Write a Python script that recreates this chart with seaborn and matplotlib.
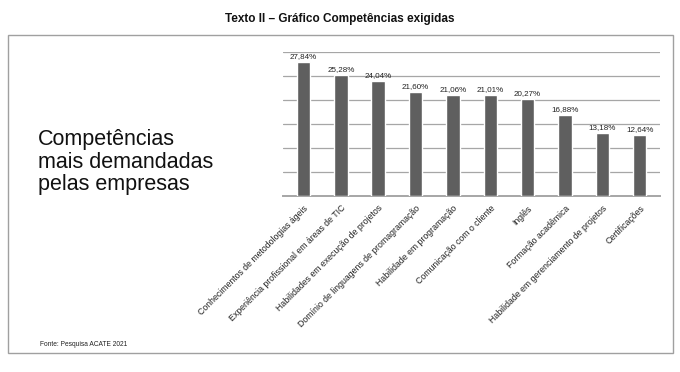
import matplotlib
matplotlib.use("Agg")
import matplotlib.pyplot as plt
import seaborn as sns
import pandas as pd
from matplotlib.patches import Rectangle

categories = [
    "Conhecimentos de metodologias ágeis",
    "Experiência profissional em áreas de TIC",
    "Habilidades em execução de projetos",
    "Domínio de linguagens de promagramação",
    "Habilidade em programação",
    "Comunicação com o cliente",
    "Inglês",
    "Formação acadêmica",
    "Habilidade em gerenciamento de projetos",
    "Certificações",
]
values = [27.84, 25.28, 24.04, 21.60, 21.06, 21.01, 20.27, 16.88, 13.18, 12.64]
value_labels = ["27,84%", "25,28%", "24,04%", "21,60%", "21,06%", "21,01%",
                "20,27%", "16,88%", "13,18%", "12,64%"]

df = pd.DataFrame({"cat": categories, "val": values})

sns.set_style("white")
plt.rcParams["font.family"] = ["Liberation Sans", "DejaVu Sans"]

fig = plt.figure(figsize=(6.8, 3.72), dpi=100)
ax = fig.add_axes([0.416, 0.473, 0.555, 0.387])

sns.barplot(data=df, x="cat", y="val", color="#5f5f5f", width=0.36,
            saturation=1, ax=ax, zorder=3)

ax.set_ylim(0, 30)
ax.set_yticks([0, 5, 10, 15, 20, 25, 30])
ax.yaxis.grid(True, color="#a6a6a6", linewidth=0.9, zorder=0)
ax.set_axisbelow(True)
ax.tick_params(axis="y", left=False, labelleft=False)
ax.tick_params(axis="x", bottom=False, pad=2)
for s in ["top", "right", "left"]:
    ax.spines[s].set_visible(False)
ax.spines["bottom"].set_color("#a6a6a6")
ax.spines["bottom"].set_linewidth(1.4)
ax.set_xlabel("")
ax.set_ylabel("")
ax.set_xlim(-0.55, len(categories) - 0.45)

ax.set_xticks(range(len(categories)))
ax.set_xticklabels(categories, rotation=45, ha="right", rotation_mode="anchor",
                   fontsize=6.3, color="#222222")

for i, (v, lab) in enumerate(zip(values, value_labels)):
    ax.text(i, v + 0.4, lab, ha="center", va="bottom", fontsize=5.8,
            color="#222222", zorder=4)

fig.text(0.5, 0.948, "Texto II – Gráfico Competências exigidas", ha="center",
         va="center", fontsize=8.5, fontweight="bold", color="#111111")

fig.text(38 / 680, 1 - 162 / 372,
         "Competências\nmais demandadas\npelas empresas",
         ha="left", va="center", fontsize=15.5, color="#111111", linespacing=1.12)

fig.text(40 / 680, 1 - 344 / 372, "Fonte: Pesquisa ACATE 2021", ha="left",
         va="center", fontsize=4.8, color="#222222")

rect = Rectangle((8 / 680, 1 - 353 / 372), (673 - 8) / 680, (353 - 35) / 372,
                 transform=fig.transFigure, fill=False, edgecolor="#a0a0a0",
                 linewidth=1.0)
fig.patches.append(rect)

fig.savefig("out.png", dpi=100)
